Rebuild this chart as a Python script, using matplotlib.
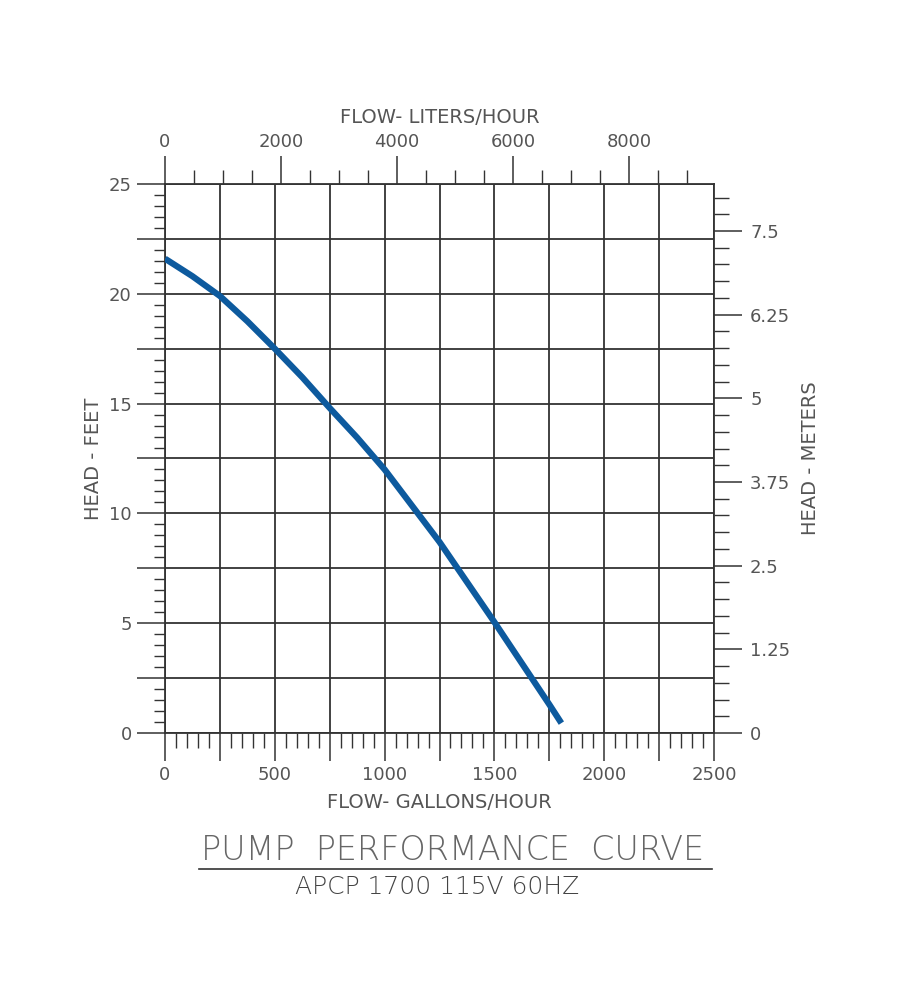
import matplotlib
matplotlib.use("Agg")
import matplotlib.pyplot as plt
from matplotlib.ticker import MultipleLocator, FuncFormatter
from matplotlib.lines import Line2D

# pump curve
flow_gph = [0, 125, 250, 375, 500, 625, 750, 875, 1000, 1250, 1500, 1750, 1805]
head_ft = [21.6, 20.8, 19.9, 18.75, 17.5, 16.2, 14.8, 13.45, 12.0, 8.7, 5.05, 1.3, 0.45]

gal_ticks = [0, 500, 1000, 1500, 2000, 2500]
ft_ticks = [0, 5, 10, 15, 20, 25]
liter_ticks = [0, 2000, 4000, 6000, 8000]
meter_ticks = [0, 1.25, 2.5, 3.75, 5, 6.25, 7.5]

L_PER_GAL = 3.785
FT_PER_M = 3.048

txt = "#555555"
plt.rcParams['font.family'] = ['DejaVu Sans']

fig = plt.figure(figsize=(9, 10), dpi=100)
ax = fig.add_axes([165/900, 1-733/1000, 549/900, 549/1000])

ax.plot(flow_gph, head_ft, color="#0d5a9e", lw=4.5, solid_capstyle="butt", zorder=3)

ax.set_xlim(0, 2500)
ax.set_ylim(0, 25)

ax.xaxis.set_major_locator(MultipleLocator(250))
ax.xaxis.set_minor_locator(MultipleLocator(50))
ax.yaxis.set_major_locator(MultipleLocator(2.5))
ax.yaxis.set_minor_locator(MultipleLocator(0.5))
ax.xaxis.set_major_formatter(FuncFormatter(lambda v, p: "%d" % v if round(v) in gal_ticks else ""))
ax.yaxis.set_major_formatter(FuncFormatter(lambda v, p: "%d" % v if abs(v - round(v)) < 1e-6 and round(v) in ft_ticks else ""))

ax.grid(True, which="major", color="#333333", lw=1.3)
ax.tick_params(which="major", direction="out", length=20, width=1.1, color="#333333",
               labelsize=13, labelcolor=txt, pad=4)
ax.tick_params(axis="y", which="minor", direction="out", length=8, width=1.0, color="#333333")
ax.tick_params(axis="x", which="minor", direction="out", length=11, width=1.0, color="#333333")
for s in ax.spines.values():
    s.set_color("#333333")
    s.set_linewidth(1.3)

# liters/hour on top
top = ax.secondary_xaxis("top", functions=(lambda g: g * L_PER_GAL, lambda l: l / L_PER_GAL))
top.set_xticks(liter_ticks)
top.xaxis.set_minor_locator(MultipleLocator(500))
top.tick_params(which="major", direction="out", length=20, width=1.1, color="#333333",
                labelsize=13, labelcolor=txt, pad=4)
top.tick_params(which="minor", direction="out", length=10, width=1.0, color="#333333")
top.spines["top"].set_visible(False)

# meters on right
right = ax.secondary_yaxis("right", functions=(lambda f: f / FT_PER_M, lambda m: m * FT_PER_M))
right.set_yticks(meter_ticks)
right.yaxis.set_major_formatter(FuncFormatter(lambda v, p: ("%g" % v)))
right.yaxis.set_minor_locator(MultipleLocator(0.25))
right.tick_params(which="major", direction="out", length=20, width=1.1, color="#333333",
                  labelsize=13, labelcolor=txt, pad=6)
right.tick_params(which="minor", direction="out", length=11, width=1.0, color="#333333")
right.spines["right"].set_visible(False)

ax.set_xlabel("FLOW- GALLONS/HOUR", fontsize=14, color=txt, labelpad=6)
top.set_xlabel("FLOW- LITERS/HOUR", fontsize=14, color=txt, labelpad=7)
ax.set_ylabel("HEAD - FEET", fontsize=14, color=txt, labelpad=4)
right.set_ylabel("HEAD - METERS", fontsize=14, color=txt, labelpad=8)

fig.text(453/900, 1-850/1000, "PUMP  PERFORMANCE  CURVE", ha="center", va="center",
         fontsize=24, color="#666666", fontweight="light")
fig.add_artist(Line2D([199/900, 712/900], [1-869/1000, 1-869/1000], color="#333333", lw=1.2))
fig.text(437/900, 1-887/1000, "APCP 1700 115V 60HZ", ha="center", va="center",
         fontsize=18, color="#444444", fontweight="light")

fig.savefig("out.png", dpi=100, facecolor="white")
